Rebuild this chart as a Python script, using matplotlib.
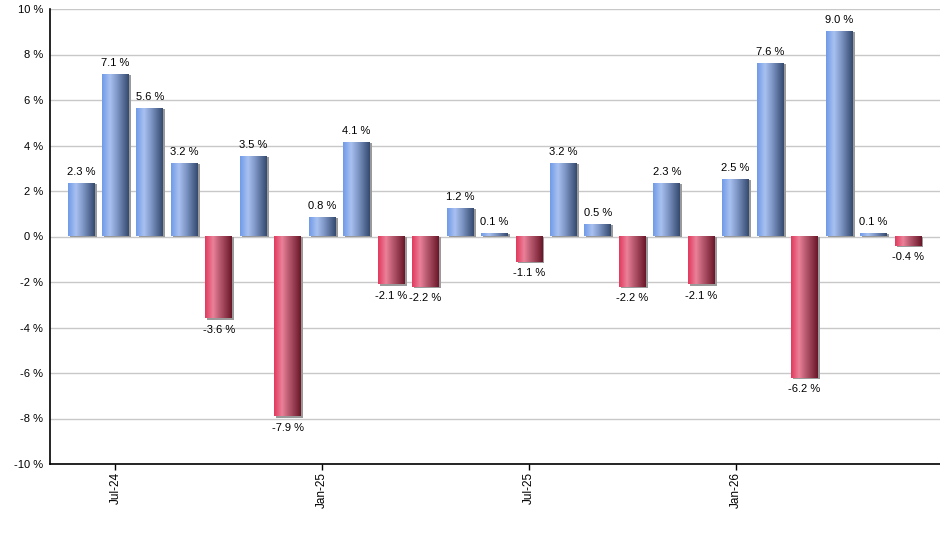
import numpy as np
import matplotlib
matplotlib.use("Agg")
import matplotlib.pyplot as plt
from matplotlib.colors import LinearSegmentedColormap
from matplotlib.patches import Rectangle

plt.rcParams['font.family'] = ['Liberation Sans', 'DejaVu Sans']

months = ["Jun-24", "Jul-24", "Aug-24", "Sep-24", "Oct-24", "Nov-24", "Dec-24",
          "Jan-25", "Feb-25", "Mar-25", "Apr-25", "May-25", "Jun-25", "Jul-25",
          "Aug-25", "Sep-25", "Oct-25", "Nov-25", "Dec-25", "Jan-26", "Feb-26",
          "Mar-26", "Apr-26", "May-26", "Jun-26"]
values = [2.3, 7.1, 5.6, 3.2, -3.6, 3.5, -7.9, 0.8, 4.1, -2.1, -2.2, 1.2, 0.1,
          -1.1, 3.2, 0.5, -2.2, 2.3, -2.1, 2.5, 7.6, -6.2, 9.0, 0.1, -0.4]
tick_labels = ["Jul-24", "Jan-25", "Jul-25", "Jan-26"]
y_ticks = [-10, -8, -6, -4, -2, 0, 2, 4, 6, 8, 10]

blue_cmap = LinearSegmentedColormap.from_list(
    "b", [(0.0, "#6f9ae8"), (0.3, "#a9c1f0"), (0.55, "#8099c8"), (1.0, "#34496e")])
red_cmap = LinearSegmentedColormap.from_list(
    "r", [(0.0, "#e2385c"), (0.3, "#ea8199"), (0.55, "#b85a70"), (1.0, "#6a1628")])

fig = plt.figure(figsize=(9.4, 5.5), dpi=100)
ax = fig.add_axes([50/940, 86/550, 890/940, 455/550])

x = np.arange(len(values))
w = 0.78
grad = np.linspace(0, 1, 256).reshape(1, -1)
fs = 8

ax.set_xlim(-0.9, len(values) - 0.07)
ax.set_ylim(-10, 10)

for xi, v in zip(x, values):
    cmap = blue_cmap if v >= 0 else red_cmap
    # shadow
    ax.add_patch(Rectangle((xi - w/2 + 0.06, 0), w, v - (0.08 if v < 0 else 0),
                           facecolor="#9a9a9a", edgecolor="none", zorder=2))
    ax.imshow(grad, cmap=cmap, aspect="auto",
              extent=(xi - w/2, xi + w/2, min(0, v), max(0, v)),
              zorder=3, interpolation="bilinear")
    if v >= 0:
        ax.text(xi, v + 0.3, f"{v:.1f} %", ha="center", va="bottom", fontsize=fs, zorder=4)
    else:
        ax.text(xi, v - 0.3, f"{v:.1f} %", ha="center", va="top", fontsize=fs, zorder=4)

ax.set_yticks(y_ticks)
ax.set_yticklabels([f"{t} %" for t in y_ticks], fontsize=fs)
ax.grid(axis="y", color="#c8c8c8", linewidth=1, zorder=0)
ax.set_axisbelow(True)

tick_pos = [months.index(t) for t in tick_labels]
ax.set_xticks(tick_pos)
ax.set_xticklabels(tick_labels, rotation=90, fontsize=8.5)
ax.tick_params(axis="x", length=4, width=1, direction="out", pad=2)
ax.tick_params(axis="y", length=0, pad=5)

for s in ["top", "right"]:
    ax.spines[s].set_visible(False)
for s in ["left", "bottom"]:
    ax.spines[s].set_linewidth(1.2)
    ax.spines[s].set_color("black")

fig.savefig("out.png", dpi=100)
